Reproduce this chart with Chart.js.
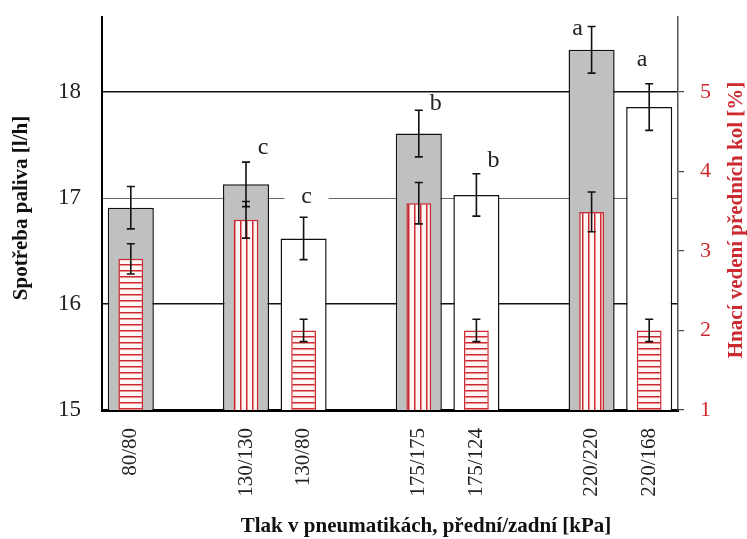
<!DOCTYPE html>
<html>
<head>
<meta charset="utf-8">
<script src="https://cdn.jsdelivr.net/npm/chart.js@4.4.1/dist/chart.umd.min.js"></script>
<style>
  html, body { margin: 0; padding: 0; background: #fff; }
  #wrap { width: 747px; height: 539px; position: relative; }
</style>
</head>
<body>
<div id="wrap"><canvas id="fuelChart"></canvas></div>
<script>
// tlak predni/zadni [kPa] - prazdne polozky = mezery mezi skupinami
var categories = ['80/80', '', '130/130', '130/80', '', '175/175', '175/124', '', '220/220', '220/168'];
// spotreba paliva [l/h] + smerodatna chyba
var fuel = [16.91, null, 17.13, 16.62, null, 17.61, 17.03, null, 18.40, 17.86];
var fuelErr = [0.20, null, 0.21, 0.20, null, 0.22, 0.20, null, 0.22, 0.22];
// hnaci vedeni prednich kol [%] + chyba
var frontDrive = [2.90, null, 3.39, 2.00, null, 3.60, 2.00, null, 3.49, 2.00];
var frontDriveErr = [0.19, null, 0.23, 0.14, null, 0.26, 0.14, null, 0.25, 0.14];
// pismena (homogenni skupiny)
var letters = ['', '', 'c', 'c', '', 'b', 'b', '', 'a', 'a'];
var leftTicks = [15, 16, 17, 18];
var rightTicks = [1, 2, 3, 4, 5];

// ---- styl ----
var RED = '#cc2a30';
var SERIF = '"Liberation Serif", "Times New Roman", serif';
var stripeDir = ['h', null, 'v', 'h', null, 'v', 'h', null, 'v', 'h'];
// posun pismene od vrcholu chybove usecky [dx, dy, bile pozadi]
var letterPos = [null, null, [17, -14, false], [3, -21, true], null, [17, -7, false], [17, -13, false], null, [-14, 2, false], [-7, -24, false]];

function stripes(dir) {
    var c = document.createElement('canvas');
    c.width = 6; c.height = 6;
    var g = c.getContext('2d');
    g.fillStyle = '#fff5f5';
    g.fillRect(0, 0, 6, 6);
    g.fillStyle = RED;
    if (dir === 'h') g.fillRect(0, 0, 6, 1.5);
    else g.fillRect(0, 0, 1.5, 6);
    return g.createPattern(c, 'repeat');
}
var patH = stripes('h'), patV = stripes('v');

function isEven(label) {
    var p = label.split('/');
    return p.length === 2 && p[0] === p[1];
}

function drawErr(ctx, x, scale, v, e, half) {
    var top = scale.getPixelForValue(v + e), bot = scale.getPixelForValue(v - e);
    ctx.beginPath();
    ctx.moveTo(x, top); ctx.lineTo(x, bot);
    ctx.moveTo(x - half, top); ctx.lineTo(x + half, top);
    ctx.moveTo(x - half, bot); ctx.lineTo(x + half, bot);
    ctx.stroke();
}

// pevna velikost os, bez automatickeho odsazeni
function fixAxis(w, h) {
    return function (s) {
        if (w) s.width = w;
        if (h) s.height = h;
        s.paddingTop = 0; s.paddingBottom = 0;
        s.paddingLeft = 0; s.paddingRight = 0;
    };
}

var extras = {
    id: 'extras',
    afterDatasetsDraw: function (chart) {
        var ctx = chart.ctx;
        var y = chart.scales.y, y1 = chart.scales.y1;
        var m0 = chart.getDatasetMeta(0), m1 = chart.getDatasetMeta(1);
        ctx.save();
        ctx.strokeStyle = '#111';
        ctx.lineWidth = 1.6;
        for (var i = 0; i < categories.length; i++) {
            if (fuel[i] == null) continue;
            drawErr(ctx, m0.data[i].x, y, fuel[i], fuelErr[i], 4);
            drawErr(ctx, m1.data[i].x, y1, frontDrive[i], frontDriveErr[i], 4);
        }
        // pismena
        ctx.font = '24px ' + SERIF;
        ctx.textAlign = 'center';
        ctx.textBaseline = 'middle';
        for (var j = 0; j < letters.length; j++) {
            if (!letters[j]) continue;
            var lp = letterPos[j];
            var lx = m0.data[j].x + lp[0];
            var ly = y.getPixelForValue(fuel[j] + fuelErr[j]) + lp[1];
            if (lp[2]) {
                ctx.fillStyle = '#fff';
                ctx.fillRect(lx - 22, ly - 10, 44, 20);
            }
            ctx.fillStyle = '#222';
            ctx.fillText(letters[j], lx, ly);
        }
        ctx.restore();
    },
    afterDraw: function (chart) {
        var ctx = chart.ctx;
        ctx.save();
        ctx.font = 'bold 21px ' + SERIF;
        ctx.textAlign = 'center';
        ctx.textBaseline = 'middle';
        ctx.fillStyle = '#111';
        ctx.fillText('Tlak v pneumatikách, přední/zadní [kPa]', 426, 527);
        ctx.translate(22, 208);
        ctx.rotate(-Math.PI / 2);
        ctx.fillText('Spotřeba paliva [l/h]', 0, 0);
        ctx.restore();
        ctx.save();
        ctx.font = 'bold 21px ' + SERIF;
        ctx.textAlign = 'center';
        ctx.textBaseline = 'middle';
        ctx.fillStyle = RED;
        ctx.translate(737, 220);
        ctx.rotate(-Math.PI / 2);
        ctx.fillText('Hnací vedení předních kol [%]', 0, 0);
        ctx.restore();
    }
};

var ctx = document.getElementById('fuelChart').getContext('2d');
var fuelChart = new Chart(ctx, {
    type: 'bar',
    data: {
        labels: categories,
        datasets: [{
            label: 'Spotřeba paliva [l/h]',
            data: fuel,
            yAxisID: 'y',
            order: 2,
            grouped: false,
            backgroundColor: function (c) { return isEven(categories[c.dataIndex]) ? '#c0c0c0' : '#ffffff'; },
            borderColor: '#111',
            borderWidth: 1.5,
            barPercentage: 0.8,
            categoryPercentage: 1
        }, {
            label: 'Hnací vedení předních kol [%]',
            data: frontDrive,
            yAxisID: 'y1',
            order: 1,
            grouped: false,
            backgroundColor: function (c) { return stripeDir[c.dataIndex] === 'v' ? patV : patH; },
            borderColor: RED,
            borderWidth: 1.5,
            barPercentage: 0.43,
            categoryPercentage: 1
        }]
    },
    options: {
        responsive: true,
        maintainAspectRatio: false,
        animation: false,
        layout: { padding: { top: 17, left: 0, right: 0, bottom: 0 } },
        plugins: { legend: { display: false }, tooltip: { enabled: false } },
        scales: {
            x: {
                afterFit: fixAxis(0, 129),
                grid: { drawOnChartArea: false, drawTicks: false },
                border: { display: true, color: '#000', width: 3 },
                ticks: {
                    autoSkip: false, maxRotation: 90, minRotation: 90, padding: 18,
                    color: '#222', font: { family: SERIF, size: 21 }
                }
            },
            y: {
                position: 'left',
                min: 15, max: 18.71,
                afterFit: fixAxis(102, 0),
                afterBuildTicks: function (s) { s.ticks = leftTicks.map(function (v) { return { value: v }; }); },
                grid: {
                    drawTicks: false,
                    color: function (c) {
                        if (c.tick.value === 15) return 'rgba(0,0,0,0)';
                        return c.tick.value === 17 ? '#666' : '#111';
                    },
                    lineWidth: function (c) { return c.tick.value === 17 ? 1 : 1.6; }
                },
                border: { color: '#000', width: 2 },
                ticks: { padding: 21, color: '#222', font: { family: SERIF, size: 23 } }
            },
            y1: {
                position: 'right',
                min: 1, max: 5.94,
                afterFit: fixAxis(69, 0),
                afterBuildTicks: function (s) { s.ticks = rightTicks.map(function (v) { return { value: v }; }); },
                grid: { drawOnChartArea: false, drawTicks: true, tickLength: 6, color: '#444', lineWidth: 1.2 },
                border: { color: '#555', width: 1.5 },
                ticks: { padding: 16, color: RED, font: { family: SERIF, size: 22 } }
            }
        }
    },
    plugins: [extras]
});
</script>
</body>
</html>
